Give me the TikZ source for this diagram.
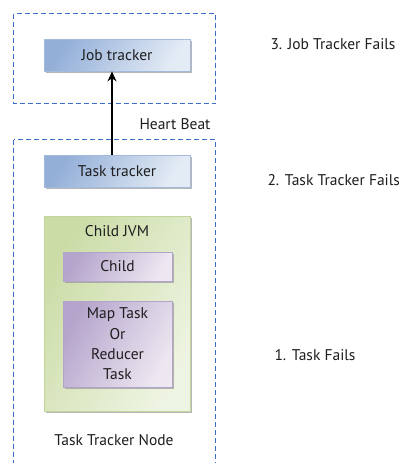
\documentclass[tikz,border=0pt]{standalone}
\usepackage{fontspec}
\setmainfont{PT Sans}
\usetikzlibrary{shadows,arrows.meta}
\definecolor{dashblue}{RGB}{60,110,200}
\definecolor{bluedark}{HTML}{93AFD8}
\definecolor{bluelight}{HTML}{E3EBF5}
\definecolor{blueedge}{HTML}{A3BADB}
\definecolor{greendark}{HTML}{CBDCA6}
\definecolor{greenlight}{HTML}{EEF4E2}
\definecolor{greenedge}{HTML}{C2D59A}
\definecolor{purpledark}{HTML}{B5A5CC}
\definecolor{purplelight}{HTML}{ECE7F1}
\definecolor{purpleedge}{HTML}{B3A3C8}
\definecolor{textgray}{HTML}{1E1E1E}
\tikzset{
  domainbox/.style={draw=dashblue, line width=1.5pt, dash pattern=on 5pt off 3pt},
  boxbase/.style={rectangle, line width=0.8pt, font=\fontsize{15.5}{17}\selectfont, text=textgray,
    drop shadow={shadow xshift=2pt, shadow yshift=-2pt, fill=black!40, opacity=0.7}},
  bluebox/.style={boxbase, draw=blueedge, left color=bluedark, right color=bluelight, shading angle=60,
    minimum width=146pt, minimum height=32pt},
  greenbox/.style={boxbase, draw=greenedge, left color=greendark, right color=greenlight, shading angle=60},
  purplebox/.style={boxbase, draw=purpleedge, left color=purpledark, right color=purplelight, shading angle=60},
  label/.style={font=\fontsize{15.5}{17}\selectfont, text=textgray},
}
\begin{document}
\begin{tikzpicture}[x=1pt,y=-1pt]
\useasboundingbox (0,0) rectangle (401,463);
\fill[white] (0,0) rectangle (401,463);
% failure domains
\draw[domainbox] (13.5,13.5) rectangle (215.5,103.5);
\draw[domainbox] (13.5,139.5) rectangle (215.5,470);
% trackers
\node[bluebox] (jt) at (117,55) {Job tracker};
\node[bluebox] (tt) at (117,171) {Task tracker};
% child JVM and its tasks
\node[greenbox, minimum width=146pt, minimum height=195pt] (jvm) at (117,313.5) {};
\node[label, anchor=center] (jvmlabel) at (117,231) {Child JVM};
\node[purplebox, minimum width=109pt, minimum height=29pt] (child) at (117.5,266.5) {Child};
\node[purplebox, minimum width=109pt, minimum height=86pt, align=center,
  font=\fontsize{15.5}{20.3}\selectfont] (map) at (117.5,344) {Map Task\\Or\\Reducer\\Task};
% heartbeat
\draw[line width=2.6pt, -{Stealth[length=10pt,width=9pt]}] (tt.north -| 112,0) -- (jt.south -| 112,0);
\node[label] (hb) at (175,124) {Heart Beat};
\node[label] (ttn) at (114,440) {Task Tracker Node};
% failure cases
\node[label, anchor=west] (f3) at (267,44) {3. Job Tracker Fails};
\node[label, anchor=west] (f2) at (264,180) {2. Task Tracker Fails};
\node[label, anchor=west] (f1) at (271,355) {1. Task Fails};
\end{tikzpicture}
\end{document}
